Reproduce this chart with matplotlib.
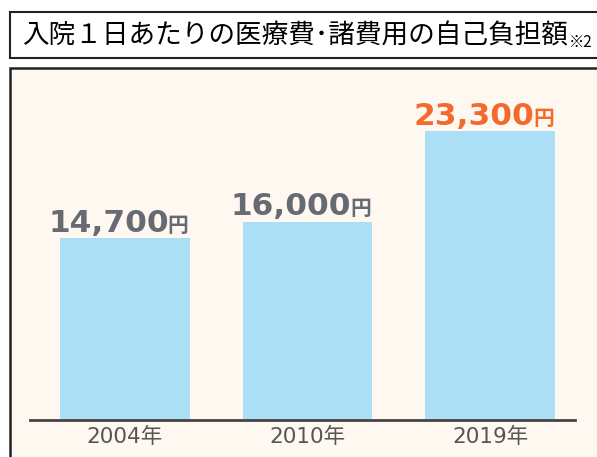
import matplotlib
matplotlib.use("Agg")
import matplotlib.pyplot as plt
from matplotlib.patches import Rectangle

years = ["2004年", "2010年", "2019年"]
costs = [14700, 16000, 23300]
label_colors = ["#666a72", "#666a72", "#f26b2c"]

W, H = 597, 457
fig = plt.figure(figsize=(W / 100, H / 100), dpi=100)
fig.patch.set_facecolor("white")

# panel background + border (runs off right and bottom)
fig.patches.append(Rectangle((10 / W, -0.1), 1.2, (H - 68) / H + 0.1,
                             transform=fig.transFigure, facecolor="#fef8f1",
                             edgecolor="#222222", linewidth=1.8, zorder=-2))
# title box
fig.patches.append(Rectangle((10 / W, 1 - 58 / H), 1.2, 46 / H,
                             transform=fig.transFigure, facecolor="white",
                             edgecolor="#222222", linewidth=1.5, zorder=-2))
t = fig.text(22 / W, 1 - 36 / H, "入院１日あたりの医療費･諸費用の自己負担額",
             fontsize=19.2, family=["Noto Sans CJK JP"], va="center", color="black")
fig.canvas.draw()
bb = t.get_window_extent()
fig.text(bb.x1 / W + 0.002, 1 - 42 / H, "※2", fontsize=11,
         family=["Noto Sans CJK JP"], va="center", color="black")

ax = fig.add_axes([30 / W, 1 - 420 / H, 545 / W, 340 / H])
ax.set_facecolor("none")
pos = [0, 1, 2]
ax.bar(pos, costs, width=130 / 183, color="#acdff6")
ax.set_xlim(-95 / 183, 2 + 85 / 183)
ax.set_ylim(0, 340 / 0.0124)
for s in ["top", "right", "left"]:
    ax.spines[s].set_visible(False)
ax.spines["bottom"].set_color("#444444")
ax.spines["bottom"].set_linewidth(2)
ax.set_yticks([])
ax.set_xticks(pos)
ax.set_xticklabels(years, fontsize=15.5, color="#555555",
                   family=["DejaVu Sans", "Noto Sans CJK JP"])
ax.tick_params(axis="x", length=0, pad=5)

fig.canvas.draw()
for x, v, c in zip(pos, costs, label_colors):
    num = ax.text(x - 0.09, v + 500, f"{v:,}", ha="center", va="baseline",
                  fontsize=22.5, fontweight="bold", color=c, family="DejaVu Sans")
    fig.canvas.draw()
    nb = num.get_window_extent()
    xd, yd = ax.transData.inverted().transform((nb.x1 - 1, 0))
    ax.text(xd, v + 500, "円", ha="left", va="baseline", fontsize=15,
            color=c, family=["Noto Sans CJK JP"], fontweight="bold")

fig.savefig("out.png", dpi=100)
